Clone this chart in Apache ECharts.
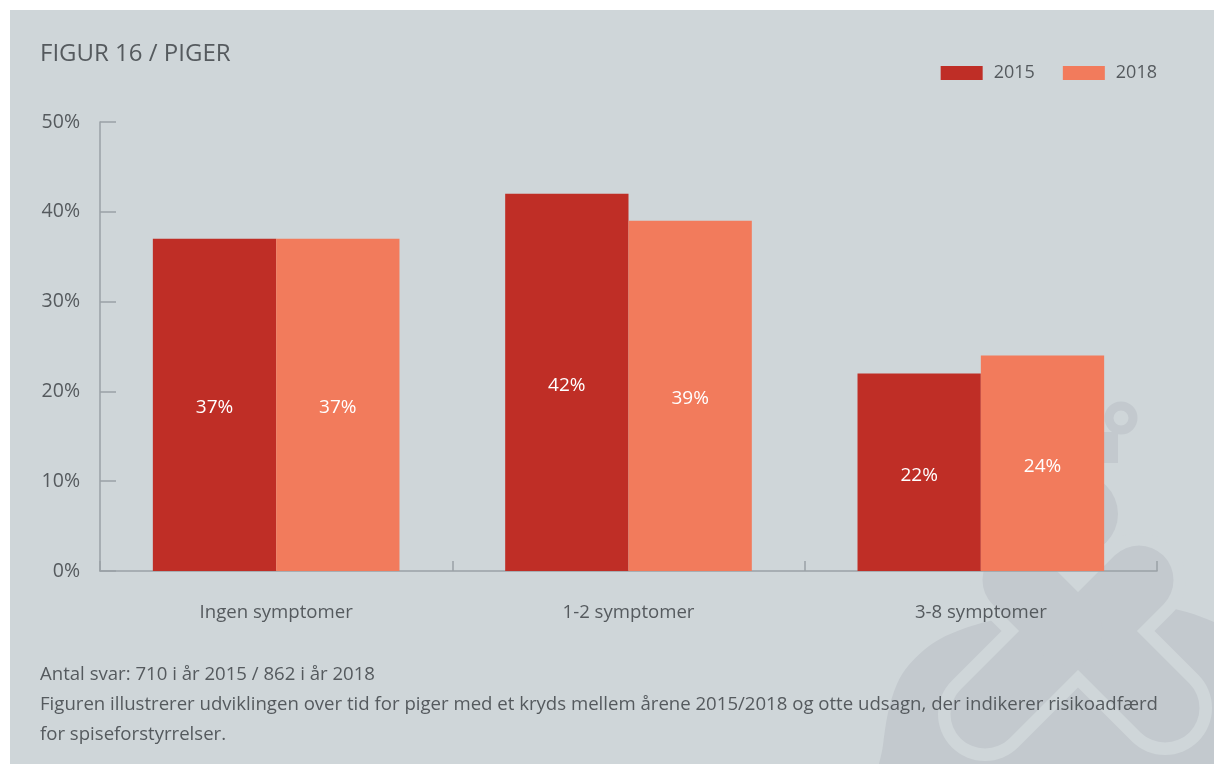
<!DOCTYPE html>
<html>
<head>
<meta charset="utf-8">
<script src="https://cdn.jsdelivr.net/npm/echarts@6/dist/echarts.min.js"></script>
<style>
  html, body { margin: 0; padding: 0; background: #ffffff; }
  #chart { width: 1214px; height: 764px; }
</style>
</head>
<body>
<div id="chart"></div>
<script>
// Share of girls by number of eating-disorder risk symptoms, 2015 vs 2018
const categories = ['Ingen symptomer', '1-2 symptomer', '3-8 symptomer'];
const seriesNames = ['2015', '2018'];
const values2015 = [37, 42, 22];
const values2018 = [37, 39, 24];
const titleText = 'FIGUR 16 / PIGER';
const noteLines = [
  'Antal svar: 710 i år 2015 / 862 i år 2018',
  'Figuren illustrerer udviklingen over tid for piger med et kryds mellem årene 2015/2018 og otte udsagn, der indikerer risikoadfærd',
  'for spiseforstyrrelser.'
];

const FONT = '"Open Sans", "Noto Sans", sans-serif';
const TEXT = '#555a5e';
const PANEL = '#cfd6d9';
const MARK = '#c3c9ce';
const AXIS = '#9aa1a6';

// background crest: a rounded body with a crossed X on top, plus a small crown
const armSegs = [
  [1068, 631, 985, 714],   // lower-left
  [1088, 631, 1165, 708],  // lower-right
  [1088, 631, 1139, 580],  // upper-right
  [1068, 631, 1017, 580]   // upper-left
];
function armLines(width, color, z) {
  return armSegs.map(a => ({
    type: 'line', z: z, silent: true,
    shape: { x1: a[0], y1: a[1], x2: a[2], y2: a[3] },
    style: { stroke: color, lineWidth: width, lineCap: 'round' }
  }));
}
const crest = [].concat(
  [{
    type: 'polygon', z: -9, silent: true,
    shape: {
      points: [[880, 820], [883, 745], [897, 684], [924, 650], [960, 630], [1020, 614],
               [1090, 601], [1160, 606], [1214, 622], [1260, 650], [1260, 820]],
      smooth: 0.35
    },
    style: { fill: MARK }
  },
  { type: 'circle', z: -9, silent: true, shape: { cx: 1078, cy: 514, r: 40 }, style: { fill: MARK } },
  { type: 'circle', z: -9, silent: true, shape: { cx: 1121, cy: 418, r: 12 }, style: { stroke: MARK, lineWidth: 9, fill: null } },
  { type: 'rect', z: -9, silent: true, shape: { x: 1098, y: 432, width: 20, height: 31 }, style: { fill: MARK } }],
  armLines(94, PANEL, -8),
  armLines(69, MARK, -7)
);

const chart = echarts.init(document.getElementById('chart'), null, { renderer: 'canvas' });

const option = {
  backgroundColor: '#ffffff',
  animation: false,
  title: {
    text: titleText,
    left: 35, top: 37,
    textStyle: { color: TEXT, fontFamily: FONT, fontSize: 24, fontWeight: 'normal' }
  },
  legend: {
    data: seriesNames,
    right: 52, top: 59,
    itemWidth: 42, itemHeight: 14, itemGap: 28,
    icon: 'rect',
    textStyle: { color: TEXT, fontFamily: FONT, fontSize: 18, padding: [0, 0, 0, 6] }
  },
  grid: { left: 100, right: 57, top: 122, bottom: 193, containLabel: false },
  xAxis: {
    type: 'category',
    data: categories,
    axisLine: { lineStyle: { color: AXIS, width: 1.5 } },
    axisTick: { show: true, inside: true, length: 10, lineStyle: { color: AXIS, width: 1.5 } },
    axisLabel: { color: TEXT, fontFamily: FONT, fontSize: 18.6, margin: 32 },
    splitLine: { show: false }
  },
  yAxis: {
    type: 'value',
    min: 0, max: 50, interval: 10,
    axisLine: { show: true, lineStyle: { color: AXIS, width: 1.5 } },
    axisTick: { show: true, inside: true, length: 16, lineStyle: { color: AXIS, width: 1.5 } },
    axisLabel: { color: TEXT, fontFamily: FONT, fontSize: 19.5, margin: 20, formatter: '{value}%' },
    splitLine: { show: false }
  },
  graphic: [
    { type: 'rect', z: -10, silent: true, shape: { x: 10, y: 10, width: 1204, height: 754 }, style: { fill: PANEL } }
  ].concat(crest).concat(noteLines.map((t, i) => ({
    type: 'text', z: 5, silent: true,
    x: 40, y: 675 + i * 30,
    style: { text: t, fill: TEXT, font: '18.6px ' + FONT, textVerticalAlign: 'middle' }
  }))),
  series: [
    {
      name: seriesNames[0], type: 'bar', data: values2015,
      barGap: '0%', barCategoryGap: '30%',
      itemStyle: { color: '#bf2e26' },
      label: { show: true, position: 'inside', offset: [0, 3], formatter: '{c}%', color: '#ffffff', fontFamily: FONT, fontSize: 19 }
    },
    {
      name: seriesNames[1], type: 'bar', data: values2018,
      barGap: '0%', barCategoryGap: '30%',
      itemStyle: { color: '#f27b5c' },
      label: { show: true, position: 'inside', offset: [0, 3], formatter: '{c}%', color: '#ffffff', fontFamily: FONT, fontSize: 19 }
    }
  ]
};

chart.setOption(option);
</script>
</body>
</html>
